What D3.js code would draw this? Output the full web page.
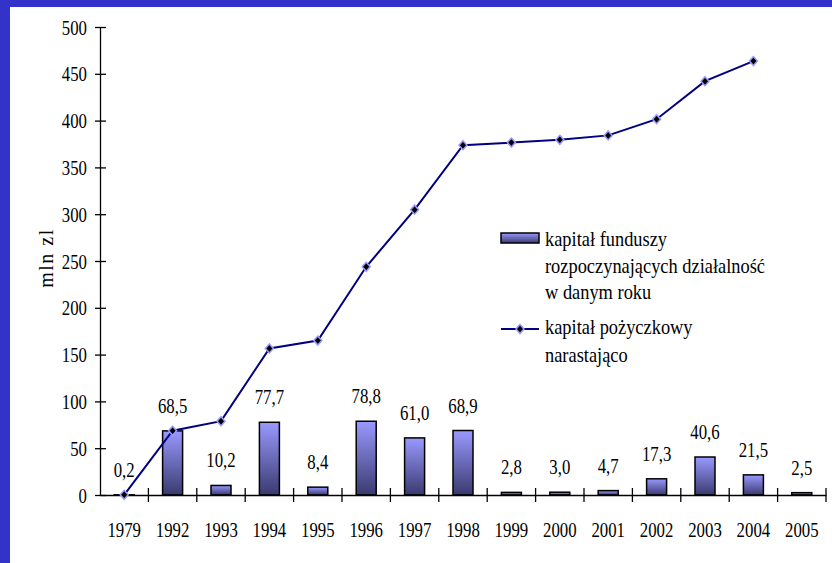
<!DOCTYPE html>
<html>
<head>
<meta charset="utf-8">
<script src="https://cdn.jsdelivr.net/npm/d3@7"></script>
<style>
  body { margin: 0; background: #fff; }
  svg { display: block; }
  text { font-family: 'Liberation Serif', 'Times New Roman', serif !important; fill: #000; }
</style>
</head>
<body>
<svg id="chart"></svg>
<script>
const years = ['1979', '1992', '1993', '1994', '1995', '1996', '1997', '1998', '1999', '2000', '2001', '2002', '2003', '2004', '2005']
// kapitał funduszy rozpoczynających działalność w danym roku
const fundCapital = [0.2, 68.5, 10.2, 77.7, 8.4, 78.8, 61.0, 68.9, 2.8, 3.0, 4.7, 17.3, 40.6, 21.5, 2.5]
// kapitał pożyczkowy narastająco (no point for 2005)
const loanYears = ['1979', '1992', '1993', '1994', '1995', '1996', '1997', '1998', '1999', '2000', '2001', '2002', '2003', '2004']
const loanCapital = [0.2, 68.7, 78.9, 156.6, 165.0, 243.8, 304.8, 373.7, 376.5, 379.5, 384.2, 401.5, 442.1, 463.6]
const yTicks = [0, 50, 100, 150, 200, 250, 300, 350, 400, 450, 500]
const yLabel = 'mln zl'
const legendBar = ['kapitał funduszy', 'rozpoczynających działalność', 'w danym roku']
const legendLine = ['kapitał pożyczkowy', 'narastająco']

const W = 832, H = 563
const sx = 0.8 // condensed look of the original font
const serif = "'Liberation Serif', 'Times New Roman', serif"

const svg = d3.select('#chart').attr('width', W).attr('height', H)

// blue frame (left and top)
svg.append('rect').attr('x', 0).attr('y', 0).attr('width', W).attr('height', 7).attr('fill', '#3333CC')
svg.append('rect').attr('x', 0).attr('y', 0).attr('width', 10).attr('height', H).attr('fill', '#3333CC')

const defs = svg.append('defs')
const grad = defs.append('linearGradient').attr('id', 'barGrad')
  .attr('x1', 0).attr('y1', 0).attr('x2', 0).attr('y2', 1)
grad.append('stop').attr('offset', '0%').attr('stop-color', '#9999FF')
grad.append('stop').attr('offset', '100%').attr('stop-color', '#3a3a70')

/// Scales ////////////////////////////////
const xScale = d3.scaleBand().domain(years).range([100, 826]).padding(0)
const yScale = d3.scaleLinear().domain([0, 500]).range([495, 27])
const barW = 20

/// bars ////////////////////////////////
svg.append('g')
  .selectAll('rect')
  .data(fundCapital)
  .enter()
  .append('rect')
  .attr('x', (d, i) => xScale(years[i]) + xScale.bandwidth() / 2 - barW / 2)
  .attr('y', d => yScale(d))
  .attr('width', barW)
  .attr('height', d => yScale(0) - yScale(d))
  .attr('fill', 'url(#barGrad)')
  .attr('stroke', '#000')
  .attr('stroke-width', 1.5)

/// value labels ////////////////////////////////
const fmt = d => d3.format('.1f')(d).replace('.', ',')
svg.append('g')
  .selectAll('text')
  .data(fundCapital)
  .enter()
  .append('text')
  .attr('transform', (d, i) => `translate(${xScale(years[i]) + xScale.bandwidth() / 2},${yScale(d) - 18}) scale(${sx},1)`)
  .attr('text-anchor', 'middle')
  .attr('font-family', serif)
  .attr('font-size', 21)
  .text(fmt)

/// axes ////////////////////////////////
const yAxis = svg.append('g')
  .attr('transform', 'translate(100,0)')
  .call(d3.axisLeft(yScale).tickValues(yTicks).tickSize(5).tickSizeOuter(0))
yAxis.attr('font-family', serif)
yAxis.select('.domain').attr('stroke', '#000').attr('stroke-width', 1.3)
yAxis.selectAll('.tick line').attr('x2', -5).attr('x1', 6).attr('stroke-width', 1.3)
yAxis.selectAll('.tick text')
  .attr('font-family', serif).attr('font-size', 21)
  .attr('x', -13 / sx).attr('dy', '0.34em')
  .attr('transform', `scale(${sx},1)`)

const xAxis = svg.append('g')
  .attr('transform', 'translate(0,495)')
  .call(d3.axisBottom(xScale).tickSize(0).tickSizeOuter(0))
xAxis.attr('font-family', serif)
xAxis.select('.domain').attr('stroke', '#000').attr('stroke-width', 1.3)
xAxis.selectAll('.tick text')
  .attr('font-family', serif).attr('font-size', 21)
  .attr('y', 42).attr('dy', 0)
  .attr('transform', `scale(${sx},1)`)
// category boundary ticks
const bounds = years.map(y => xScale(y)).concat([xScale.range()[1]])
xAxis.append('g')
  .selectAll('line')
  .data(bounds.slice(1))
  .enter()
  .append('line')
  .attr('x1', d => d).attr('x2', d => d)
  .attr('y1', -7).attr('y2', 7)
  .attr('stroke', '#000').attr('stroke-width', 1.3)

/// line ////////////////////////////////
const linePts = loanCapital.map((v, i) => ({ year: loanYears[i], v }))
const cx = d => xScale(d.year) + xScale.bandwidth() / 2
svg.append('path')
  .datum(linePts)
  .attr('d', d3.line().x(cx).y(d => yScale(d.v)))
  .attr('fill', 'none')
  .attr('stroke', '#000080')
  .attr('stroke-width', 2)

const diamond = 'M0,-4.5L4,0L0,4.5L-4,0Z'
svg.append('g')
  .selectAll('path')
  .data(linePts)
  .enter()
  .append('path')
  .attr('d', diamond)
  .attr('transform', d => `translate(${cx(d)},${yScale(d.v)})`)
  .attr('fill', '#000')
  .attr('stroke', '#9999FF')
  .attr('stroke-width', 1.5)

/// y label ////////////////////////////////
svg.append('text')
  .attr('transform', 'translate(53,258) rotate(-90)')
  .attr('text-anchor', 'middle')
  .attr('font-family', serif)
  .attr('font-size', 20)
  .attr('letter-spacing', 1.5)
  .text(yLabel)

/// legend ////////////////////////////////
const legend = svg.append('g')
legend.append('rect')
  .attr('x', 501).attr('y', 233).attr('width', 38).attr('height', 10)
  .attr('fill', 'url(#barGrad)').attr('stroke', '#000').attr('stroke-width', 1.5)
legend.append('g')
  .selectAll('text')
  .data(legendBar)
  .enter()
  .append('text')
  .attr('transform', (d, i) => `translate(545,${246 + i * 26.5}) scale(0.92,1)`)
  .attr('font-family', serif)
  .attr('font-size', 20)
  .text(d => d)

legend.append('line')
  .attr('x1', 501).attr('x2', 539).attr('y1', 329).attr('y2', 329)
  .attr('stroke', '#000080').attr('stroke-width', 2)
legend.append('path')
  .attr('d', diamond)
  .attr('transform', 'translate(520,329)')
  .attr('fill', '#000').attr('stroke', '#9999FF').attr('stroke-width', 1.5)
legend.append('g')
  .selectAll('text')
  .data(legendLine)
  .enter()
  .append('text')
  .attr('transform', (d, i) => `translate(545,${334 + i * 28}) scale(0.92,1)`)
  .attr('font-family', serif)
  .attr('font-size', 20)
  .text(d => d)
</script>
</body>
</html>
